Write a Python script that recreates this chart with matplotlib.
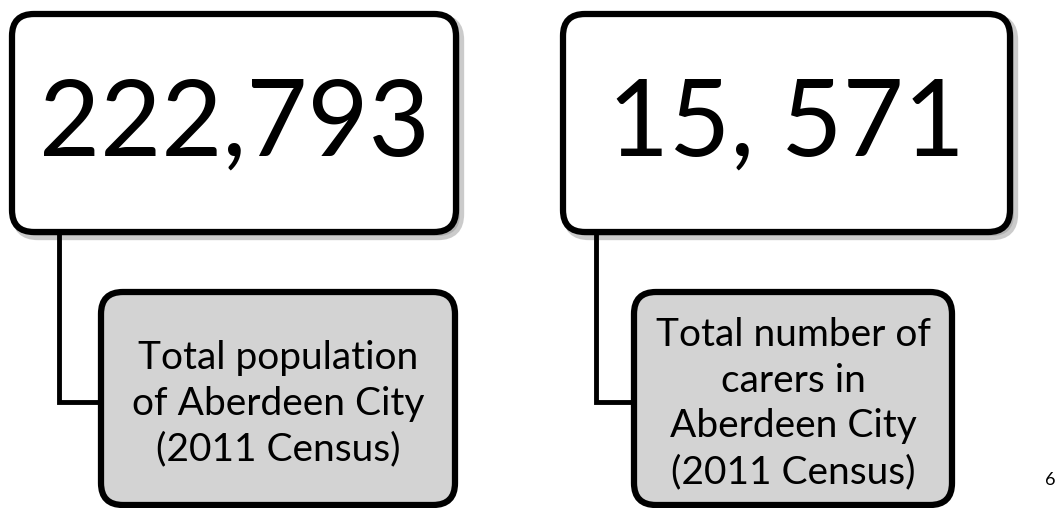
import matplotlib.pyplot as plt
from matplotlib.patches import FancyBboxPatch

# --- data ---
big_numbers = ["222,793", "15, 571"]
captions = ["Total population\nof Aberdeen City\n(2011 Census)",
            "Total number of\ncarers in\nAberdeen City\n(2011 Census)"]
page_number = "6"

# layout in pixel coords (y down)
top_boxes = [(12, 14, 444, 218), (563, 14, 447, 218)]      # x, y, w, h
bottom_boxes = [(101, 292, 354, 213), (634, 292, 318, 213)]
connector_x = [59, 596]
connector_y = 402

plt.rcParams['font.family'] = ['Lato', 'DejaVu Sans']

fig = plt.figure(figsize=(10.63, 5.08), dpi=100)
ax = fig.add_axes([0, 0, 1, 1])
ax.set_xlim(0, 1063)
ax.set_ylim(508, 0)
ax.axis("off")

def box(x, y, w, h, fill, shadow=False):
    if shadow:
        sh = FancyBboxPatch((x + 4, y + 4), w, h, boxstyle="round,pad=0,rounding_size=22",
                            fc="#999999", ec="#999999", lw=6, alpha=0.5, zorder=1)
        ax.add_patch(sh)
    p = FancyBboxPatch((x, y), w, h, boxstyle="round,pad=0,rounding_size=22",
                       fc=fill, ec="black", lw=4.5, zorder=3)
    ax.add_patch(p)

for i in range(2):
    tx, ty, tw, th = top_boxes[i]
    bx, by, bw, bh = bottom_boxes[i]
    # elbow connector
    ax.plot([connector_x[i], connector_x[i], bx], [ty + th, connector_y, connector_y],
            color="black", lw=3.5, solid_joinstyle="miter", zorder=2)
    box(tx, ty, tw, th, "white", shadow=True)
    box(bx, by, bw, bh, "#d3d3d3")
    ax.text(tx + tw / 2, ty + th / 2 + 3, big_numbers[i], ha="center", va="center",
            fontsize=76, zorder=4)
    ax.text(bx + bw / 2, by + bh / 2 + 5, captions[i], ha="center", va="center",
            fontsize=28, linespacing=1.34, zorder=4)

ax.text(1050, 480, page_number, ha="center", va="center", fontsize=13)

fig.savefig("out.png", dpi=100)
